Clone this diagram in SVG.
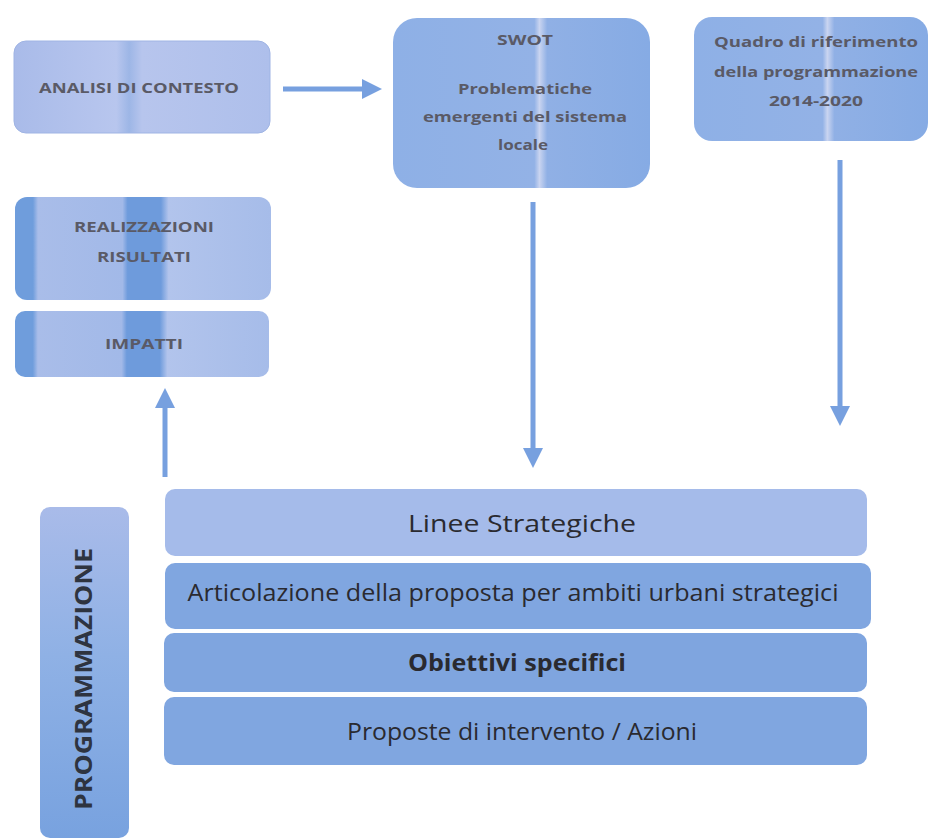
<svg xmlns="http://www.w3.org/2000/svg" width="941" height="838" viewBox="0 0 941 838">
<style>
.small{font-family:"Open Sans","Liberation Sans",sans-serif;font-size:14px;font-weight:bold;fill:#5a5a66;text-anchor:middle}
.big{font-family:"Open Sans","Liberation Sans",sans-serif;font-size:23px;fill:#2a2a30;text-anchor:middle}
.conn{stroke:#77a0df;stroke-width:5;fill:none}
</style>
<defs>
<linearGradient id="gLight" x1="0" x2="1" y1="0" y2="0">
<stop offset="0" stop-color="#a9bbe9"/><stop offset="0.4" stop-color="#b8c6ee"/><stop offset="0.45" stop-color="#9db6e6"/><stop offset="0.5" stop-color="#b7c5ed"/><stop offset="1" stop-color="#aebfeb"/>
</linearGradient>
<linearGradient id="gMid" x1="0" x2="1" y1="0" y2="0">
<stop offset="0" stop-color="#8eb0e6"/><stop offset="0.55" stop-color="#93b2e6"/><stop offset="0.57" stop-color="#c9d4f0"/><stop offset="0.6" stop-color="#90b0e5"/><stop offset="1" stop-color="#86abe4"/>
</linearGradient>
<linearGradient id="gLeft" x1="0" x2="1" y1="0" y2="0">
<stop offset="0" stop-color="#6f9ddc"/><stop offset="0.07" stop-color="#6f9ddc"/><stop offset="0.09" stop-color="#a9bde9"/><stop offset="0.42" stop-color="#a2b9e8"/><stop offset="0.44" stop-color="#6e9bdc"/><stop offset="0.57" stop-color="#6e9bdc"/><stop offset="0.6" stop-color="#b2c4ec"/><stop offset="1" stop-color="#a6bce9"/>
</linearGradient>
<linearGradient id="gBar" x1="0" x2="0" y1="0" y2="1">
<stop offset="0" stop-color="#a9bbe9"/><stop offset="0.45" stop-color="#8fb1e5"/><stop offset="1" stop-color="#78a2df"/>
</linearGradient>
<marker id="ah" viewBox="0 0 10 10" refX="2" refY="5" markerWidth="4" markerHeight="4" orient="auto" markerUnits="strokeWidth">
<path d="M0,0 L10,5 L0,10 z" fill="#77a0df"/>
</marker>
</defs>

<g id="connectors">
<line class="conn" x1="283" y1="89" x2="366" y2="89" marker-end="url(#ah)"/>
<line class="conn" x1="533" y1="202" x2="533" y2="452" marker-end="url(#ah)"/>
<line class="conn" x1="840" y1="160" x2="840" y2="410" marker-end="url(#ah)"/>
<line class="conn" x1="165" y1="477" x2="165" y2="404" marker-end="url(#ah)"/>
</g>

<g id="analisi">
<rect x="14" y="41" width="256" height="92" rx="12" fill="url(#gLight)" stroke="#9fb4e4"/>
<text class="small" x="139" y="93" textLength="200" lengthAdjust="spacingAndGlyphs">ANALISI DI CONTESTO</text>
</g>

<g id="swot">
<rect x="393" y="18" width="257" height="170" rx="24" fill="url(#gMid)"/>
<text class="small" x="525" y="45" textLength="56" lengthAdjust="spacingAndGlyphs">SWOT</text>
<text class="small" x="525" y="94" textLength="134" lengthAdjust="spacingAndGlyphs">Problematiche</text>
<text class="small" x="525" y="122" textLength="204" lengthAdjust="spacingAndGlyphs">emergenti del sistema</text>
<text class="small" x="523" y="150" textLength="50" lengthAdjust="spacingAndGlyphs">locale</text>
</g>

<g id="quadro">
<rect x="694" y="17" width="234" height="124" rx="18" fill="url(#gMid)"/>
<text class="small" x="816" y="47" textLength="204" lengthAdjust="spacingAndGlyphs">Quadro di riferimento</text>
<text class="small" x="816" y="77" textLength="204" lengthAdjust="spacingAndGlyphs">della programmazione</text>
<text class="small" x="816" y="106" textLength="94" lengthAdjust="spacingAndGlyphs">2014-2020</text>
</g>

<g id="realizzazioni">
<rect x="15" y="197" width="256" height="103" rx="12" fill="url(#gLeft)"/>
<text class="small" x="144" y="232" textLength="140" lengthAdjust="spacingAndGlyphs">REALIZZAZIONI</text>
<text class="small" x="144" y="262" textLength="94" lengthAdjust="spacingAndGlyphs">RISULTATI</text>
</g>

<g id="impatti">
<rect x="15" y="311" width="254" height="66" rx="10" fill="url(#gLeft)"/>
<text class="small" x="144" y="349" textLength="78" lengthAdjust="spacingAndGlyphs">IMPATTI</text>
</g>

<g id="programmazione">
<rect x="40" y="507" width="89" height="331" rx="10" fill="url(#gBar)"/>
<text transform="translate(92,679) rotate(-90)" font-family="Open Sans, Liberation Sans, sans-serif" font-size="24" font-weight="bold" fill="#2e3440" text-anchor="middle" textLength="262" lengthAdjust="spacingAndGlyphs">PROGRAMMAZIONE</text>
</g>

<g id="linee">
<rect x="165" y="489" width="702" height="67" rx="10" fill="#a5bbea"/>
<text class="big" x="522" y="532" font-size="25" textLength="228" lengthAdjust="spacingAndGlyphs">Linee Strategiche</text>
</g>

<g id="articolazione">
<rect x="165" y="563" width="706" height="66" rx="10" fill="#80a6e0"/>
<text class="big" x="513" y="601" textLength="651" lengthAdjust="spacingAndGlyphs">Articolazione della proposta per ambiti urbani strategici</text>
</g>

<g id="obiettivi">
<rect x="164" y="633" width="703" height="59" rx="10" fill="#7fa5df"/>
<text class="big" x="517" y="671" font-weight="bold" font-size="21" textLength="218" lengthAdjust="spacingAndGlyphs">Obiettivi specifici</text>
</g>

<g id="proposte">
<rect x="164" y="697" width="703" height="68" rx="10" fill="#80a6e0"/>
<text class="big" x="522" y="740" textLength="350" lengthAdjust="spacingAndGlyphs">Proposte di intervento / Azioni</text>
</g>
</svg>
